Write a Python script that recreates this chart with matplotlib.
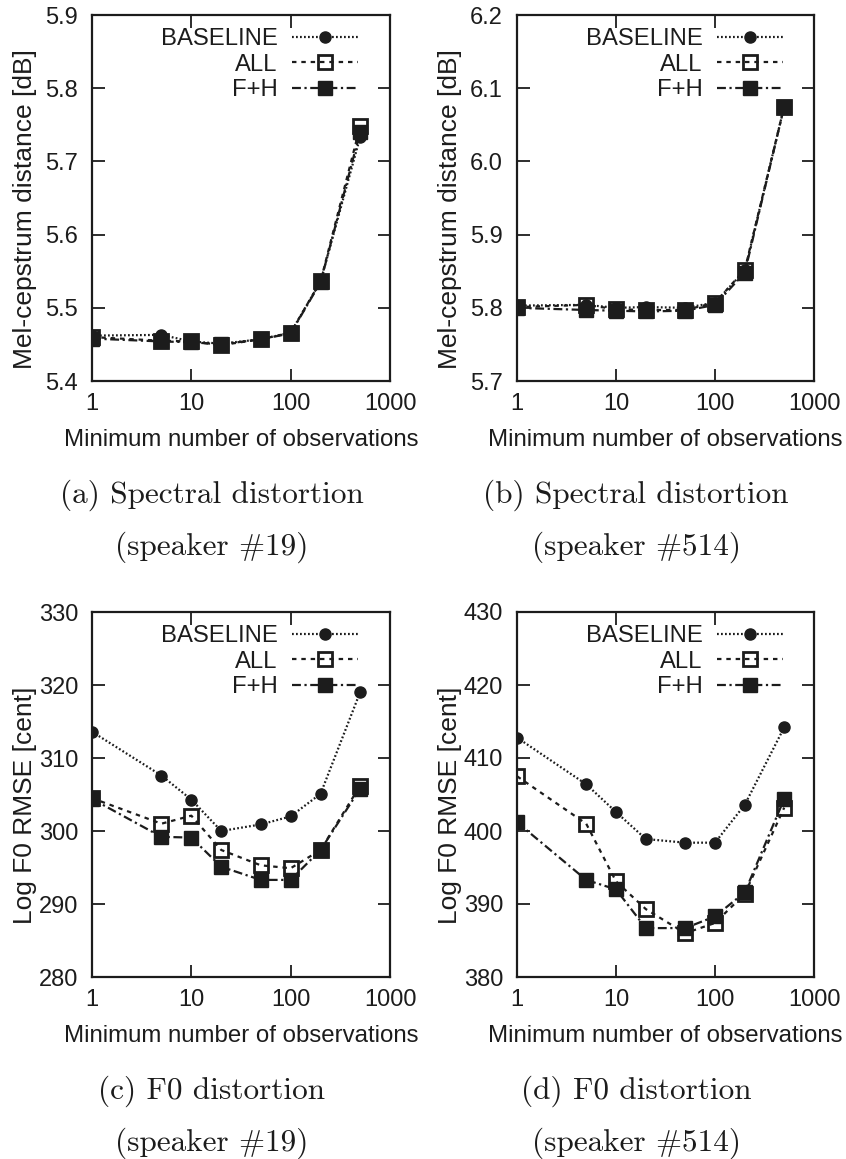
import matplotlib
matplotlib.use("Agg")
import matplotlib.pyplot as plt
from matplotlib.ticker import NullLocator

plt.rcParams['font.family'] = ['Liberation Sans', 'DejaVu Sans']

x_obs = [1, 5, 10, 20, 50, 100, 200, 500]
series_names = ["BASELINE", "ALL", "F+H"]

# (a) spectral distortion, speaker #19
a_baseline = [5.462, 5.463, 5.454, 5.451, 5.457, 5.466, 5.536, 5.733]
a_all      = [5.460, 5.455, 5.454, 5.449, 5.457, 5.466, 5.536, 5.748]
a_fh       = [5.458, 5.454, 5.453, 5.450, 5.457, 5.465, 5.535, 5.740]
# (b) spectral distortion, speaker #514
b_baseline = [5.803, 5.804, 5.800, 5.801, 5.800, 5.807, 5.851, 6.075]
b_all      = [5.801, 5.804, 5.798, 5.797, 5.797, 5.807, 5.852, 6.075]
b_fh       = [5.800, 5.797, 5.796, 5.795, 5.796, 5.804, 5.848, 6.075]
# (c) F0 distortion, speaker #19
c_baseline = [313.6, 307.6, 304.3, 300.0, 300.9, 302.0, 305.1, 319.0]
c_all      = [304.5, 301.0, 302.1, 297.4, 295.3, 294.9, 297.4, 306.2]
c_fh       = [304.4, 299.2, 299.1, 295.1, 293.3, 293.3, 297.4, 305.8]
# (d) F0 distortion, speaker #514
d_baseline = [412.8, 406.4, 402.6, 398.9, 398.4, 398.4, 403.6, 414.2]
d_all      = [407.5, 401.0, 393.1, 389.3, 386.0, 387.4, 391.4, 403.2]
d_fh       = [401.2, 393.3, 392.0, 386.7, 386.7, 388.3, 391.6, 404.4]

x_ticks = [1, 10, 100, 1000]
x_ticklabels = ["1", "10", "100", "1000"]
xlabel = "Minimum number of observations"

panels = [
    dict(data=[a_baseline, a_all, a_fh], ylim=(5.4, 5.9), yticks=[5.4, 5.5, 5.6, 5.7, 5.8, 5.9],
         yfmt="{:.1f}", ylabel="Mel-cepstrum distance [dB]",
         caption=["(a) Spectral distortion", "(speaker #19)"]),
    dict(data=[b_baseline, b_all, b_fh], ylim=(5.7, 6.2), yticks=[5.7, 5.8, 5.9, 6.0, 6.1, 6.2],
         yfmt="{:.1f}", ylabel="Mel-cepstrum distance [dB]",
         caption=["(b) Spectral distortion", "(speaker #514)"]),
    dict(data=[c_baseline, c_all, c_fh], ylim=(280, 330), yticks=[280, 290, 300, 310, 320, 330],
         yfmt="{:.0f}", ylabel="Log F0 RMSE [cent]",
         caption=["(c) F0 distortion", "(speaker #19)"]),
    dict(data=[d_baseline, d_all, d_fh], ylim=(380, 430), yticks=[380, 390, 400, 410, 420, 430],
         yfmt="{:.0f}", ylabel="Log F0 RMSE [cent]",
         caption=["(d) F0 distortion", "(speaker #514)"]),
]

W, H = 846, 1159
fig = plt.figure(figsize=(W / 100, H / 100), dpi=100)

# pixel boxes (left, top, right, bottom) and caption centre x
boxes = [(92, 15, 390, 381), (517, 15, 814, 381), (92, 612, 390, 977), (517, 612, 814, 977)]
cap_x = [212, 636, 212, 636]

ink = "#1c1c1c"
styles = [
    dict(linestyle=(0, (0.8, 1.0)), marker="o", markersize=8, markerfacecolor=ink, markeredgecolor=ink),
    dict(linestyle=(0, (2.0, 2.2)), marker="s", markersize=9.5, markerfacecolor="none",
         markeredgecolor=ink, markeredgewidth=2.0),
    dict(linestyle=(0, (4.0, 1.6, 1.0, 1.6)), marker="s", markersize=10, markerfacecolor=ink,
         markeredgecolor=ink),
]

for p, (l, t, r, b), cx in zip(panels, boxes, cap_x):
    aw, ah = r - l, b - t
    ax = fig.add_axes([l / W, 1 - b / H, aw / W, ah / H])
    for name, yv, st in zip(series_names, p["data"], styles):
        ax.plot(x_obs, yv, color=ink, linewidth=1.6, label=name, **st)
    ax.set_xscale("log")
    ax.set_xlim(1, 1000)
    ax.set_ylim(*p["ylim"])
    ax.set_xticks(x_ticks)
    ax.set_xticklabels(x_ticklabels)
    ax.xaxis.set_minor_locator(NullLocator())
    ax.set_yticks(p["yticks"])
    ax.set_yticklabels([p["yfmt"].format(v) for v in p["yticks"]])
    ax.tick_params(direction="in", length=9, width=1.3, top=True, right=True,
                   labelsize=17, colors=ink)
    ax.tick_params(axis="x", pad=9)
    ax.tick_params(axis="y", pad=10)
    for s in ax.spines.values():
        s.set_linewidth(1.6)
        s.set_color(ink)
    ax.set_xlabel(xlabel, fontsize=17.3, color=ink, va="center")
    ax.xaxis.set_label_coords(0.5, -(440 - 381) / ah)
    ax.set_ylabel(p["ylabel"], fontsize=19, color=ink, va="center")
    ax.yaxis.set_label_coords(-(l - (25 if l < 400 else 450)) / aw, 0.47)
    leg = ax.legend(loc="upper right", markerfirst=False, frameon=False, fontsize=17.2,
                    handlelength=2.75, handletextpad=0.62, labelspacing=0.15,
                    borderaxespad=0.0, borderpad=0.0,
                    bbox_to_anchor=((358 - l + (0 if l < 400 else 425)) / aw, 1 - 13 / ah))
    for txt in leg.get_texts():
        txt.set_color(ink)
    fig.text(cx / W, 1 - (b + 114) / H, p["caption"][0], ha="center", va="center",
             fontsize=22.5, family=["cmr10", "DejaVu Serif"], color=ink)
    fig.text(cx / W, 1 - (b + 166) / H, p["caption"][1], ha="center", va="center",
             fontsize=22.5, family=["cmr10", "DejaVu Serif"], color=ink)

fig.savefig("out.png", dpi=100)
